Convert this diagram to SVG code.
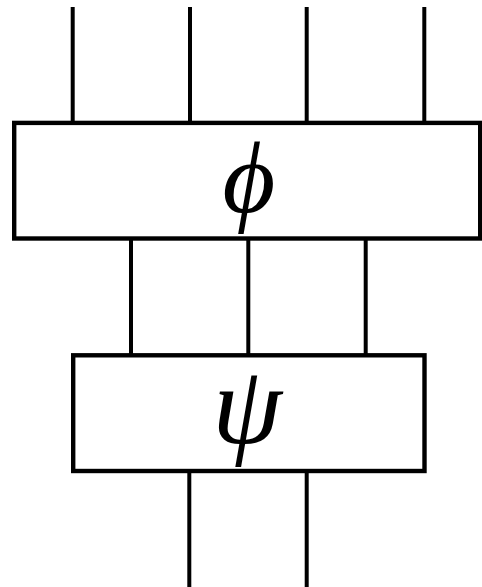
<svg xmlns="http://www.w3.org/2000/svg" width="482" height="587" viewBox="0 0 482 587">
<style>
.w{stroke:#000;stroke-width:4;fill:none}
.b{stroke:#000;stroke-width:4.4;fill:#fff}
.t{font-family:"Liberation Serif","DejaVu Serif",serif;font-style:italic;text-anchor:middle;fill:#000}
</style>
<g id="connectors">
<line class="w" x1="72.7" y1="7" x2="72.7" y2="123"/>
<line class="w" x1="190" y1="7" x2="190" y2="123"/>
<line class="w" x1="306.7" y1="7" x2="306.7" y2="123"/>
<line class="w" x1="424.3" y1="7" x2="424.3" y2="123"/>
<line class="w" x1="131" y1="238" x2="131" y2="355"/>
<line class="w" x1="248.3" y1="238" x2="248.3" y2="355"/>
<line class="w" x1="365.7" y1="238" x2="365.7" y2="355"/>
<line class="w" x1="189.3" y1="471" x2="189.3" y2="587"/>
<line class="w" x1="306.7" y1="471" x2="306.7" y2="587"/>
</g>
<g id="phi">
<rect class="b" x="14.2" y="122.9" width="466" height="115.6"/>
<text class="t" x="249" y="212" font-size="102">ϕ</text>
</g>
<g id="psi">
<rect class="b" x="73.2" y="355.3" width="351.3" height="115.7"/>
<text class="t" x="247" y="443" font-size="112">ψ</text>
</g>
</svg>
